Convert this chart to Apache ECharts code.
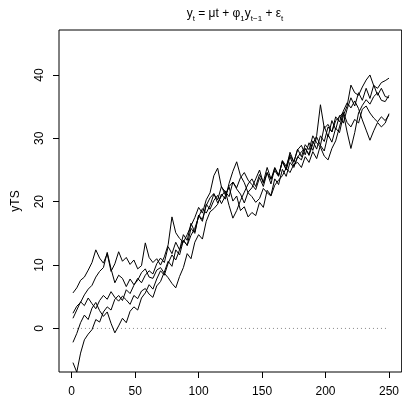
<!DOCTYPE html>
<html><head><meta charset="utf-8">
<script src="https://cdn.jsdelivr.net/npm/echarts@6/dist/echarts.min.js"></script>
<style>html,body{margin:0;padding:0;background:#fff}#c{width:402px;height:399px}</style>
</head><body><div id="c"></div>
<script>
const xTicks = [0, 50, 100, 150, 200, 250];
const yTicks = [0, 10, 20, 30, 40];
const timeStart = 1, timeStep = 3;

const seriesA = [
  5.6, 6.4, 7.6, 8.1, 9.2, 10.4, 12.4, 11.1, 10.3, 11.8, 9.0, 10.2,
  12.1, 10.6, 11.2, 10.1, 10.8, 9.4, 9.9, 13.5, 11.2, 10.4, 11.0, 10.0,
  11.3, 13.2, 17.6, 15.1, 14.2, 13.6, 14.8, 16.2, 17.5, 19.1, 18.2, 20.3,
  21.4, 24.1, 25.3, 22.3, 21.6, 20.8, 23.1, 22.0, 21.2, 19.8, 21.5, 22.2,
  23.6, 25.0, 22.9, 24.6, 23.5, 25.4, 24.2, 26.3, 25.0, 27.1, 25.6, 27.0,
  27.9, 28.4, 27.3, 29.1, 30.4, 35.3, 31.6, 32.2, 31.0, 32.8, 33.4, 34.1,
  32.5, 31.8, 33.0, 32.4, 34.6, 35.1, 34.0, 33.2, 32.6, 33.4, 32.8, 33.7
];
const seriesB = [
  2.4, 3.5, 4.1, 5.3, 6.2, 6.8, 8.1, 9.0, 9.6, 12.0, 9.4, 7.2,
  8.4, 7.9, 6.6, 7.8, 6.9, 7.6, 8.8, 9.4, 8.1, 7.9, 9.2, 9.6,
  8.7, 8.0, 7.1, 6.4, 8.2, 9.6, 11.8, 11.0, 13.6, 14.8, 14.1, 16.9,
  18.4, 18.9, 19.6, 21.2, 20.4, 22.9, 24.8, 26.3, 24.1, 23.0, 21.4, 20.8,
  19.9, 20.5, 22.1, 21.4, 20.9, 22.6, 23.4, 24.1, 25.3, 24.6, 25.9, 26.2,
  25.4, 27.1, 26.2, 27.9, 26.8, 28.9, 28.0, 30.6, 29.4, 31.6, 30.9, 33.6,
  35.1, 38.4, 37.2, 36.8, 38.1, 39.2, 40.0, 38.3, 37.9, 38.8, 39.1, 39.5
];
const seriesC = [
  1.6, 2.9, 4.2, 3.6, 4.8, 3.9, 3.1, 4.4, 5.2, 4.6, 5.8, 4.9,
  4.3, 5.1, 4.5, 3.8, 5.2, 4.7, 5.9, 6.3, 5.4, 4.9, 6.7, 7.4,
  8.9, 10.6, 9.8, 12.4, 11.6, 13.9, 13.1, 15.8, 15.0, 17.9, 17.2, 19.4,
  20.6, 21.3, 19.8, 20.9, 21.7, 19.4, 17.4, 18.6, 20.2, 21.5, 22.8, 23.6,
  22.4, 24.3, 23.1, 25.4, 23.6, 24.9, 24.0, 26.5, 25.6, 27.4, 26.2, 28.3,
  27.1, 29.0, 28.2, 30.4, 29.3, 28.6, 27.2, 26.6, 28.4, 29.6, 31.8, 34.0,
  31.0, 28.4, 30.9, 34.0, 35.2, 36.1, 35.4, 36.6, 37.2, 36.0, 35.8, 36.8
];
const seriesD = [
  -2.2, -0.8, 0.9, 2.1, 1.4, 3.2, 4.1, 2.8, 1.9, 2.6, 0.8, -0.7,
  0.4, 1.6, 0.9, 2.7, 3.4, 2.9, 4.8, 5.6, 6.9, 6.2, 7.8, 9.1,
  8.4, 10.3, 11.6, 10.8, 12.4, 13.9, 13.1, 14.7, 15.8, 17.6, 18.9, 18.2,
  19.4, 21.2, 20.3, 22.4, 21.1, 22.3, 20.1, 20.9, 18.6, 19.2, 17.6, 18.3,
  17.8, 19.9, 19.1, 21.8, 21.0, 23.6, 22.7, 25.1, 24.0, 26.2, 25.4, 27.1,
  26.6, 28.4, 27.5, 29.6, 28.3, 30.4, 29.5, 31.8, 31.0, 33.4, 32.6, 34.3,
  35.6, 34.8, 35.9, 34.7, 32.9, 31.3, 29.7, 31.2, 32.5, 31.8, 32.4, 33.9
];
const seriesE = [
  -5.4, -6.9, -3.9, -1.8, -0.9, -0.2, 1.4, 1.0, 2.6, 3.4, 2.9, 4.6,
  5.2, 4.4, 6.1, 5.5, 6.8, 7.9, 7.2, 8.4, 9.1, 8.6, 10.2, 11.1,
  10.4, 12.9, 11.8, 13.6, 12.4, 14.8, 13.9, 16.6, 15.2, 17.8, 16.9, 19.6,
  18.8, 20.2, 21.0, 19.7, 20.9, 22.4, 23.1, 22.2, 23.8, 24.6, 23.4, 22.7,
  21.9, 23.8, 22.4, 24.6, 22.8, 25.3, 24.1, 26.4, 25.2, 27.8, 26.3, 28.2,
  28.9, 27.4, 29.3, 28.1, 30.2, 28.9, 31.9, 30.2, 32.8, 31.4, 33.6, 32.4,
  34.6, 36.4, 35.1, 37.2, 36.0, 37.9, 36.3, 38.4, 36.8, 37.9, 36.6, 36.4
];
const zeroX = [1, 250];
const zeroY = [0, 0];

function toPairs(vals) { return vals.map((v, i) => [timeStart + i * timeStep, v]); }
const font = 'Liberation Sans, Arial, Helvetica, sans-serif';

const lineSeries = [seriesA, seriesB, seriesC, seriesD, seriesE].map(vals => ({
  type: 'line', data: toPairs(vals), showSymbol: false, symbol: 'none',
  lineStyle: { color: '#000', width: 1 }, z: 3, silent: true
}));
lineSeries.unshift({
  type: 'line', data: zeroX.map((x, i) => [x, zeroY[i]]), symbol: 'none',
  lineStyle: { color: '#888', width: 1, type: [1, 3] }, z: 2, silent: true
});

const chart = echarts.init(document.getElementById('c'), null, { renderer: 'canvas' });
chart.setOption({
  animation: false,
  backgroundColor: '#fff',
  title: {
    text: '{a|y}{s|t}{a| = μt + φ}{s|1}{a|y}{s|t−1}{a| + ε}{s|t}',
    left: 230, top: 4, textAlign: 'center',
    textStyle: {
      fontFamily: font, fontWeight: 'normal', color: '#000',
      rich: {
        a: { fontFamily: font, fontSize: 12, color: '#000', lineHeight: 14, verticalAlign: 'bottom', padding: [0, 0, 3, 0] },
        s: { fontFamily: font, fontSize: 8, color: '#000', lineHeight: 9, verticalAlign: 'bottom' }
      }
    }
  },
  grid: { left: 59, right: -1, top: 30, bottom: 27, show: true, borderColor: '#000', borderWidth: 1, containLabel: false },
  xAxis: {
    type: 'value', min: -10, max: 260,
    axisLine: { show: false, onZero: false }, splitLine: { show: false },
    axisTick: { show: true, customValues: xTicks, length: 6, lineStyle: { color: '#000' } },
    axisLabel: { customValues: xTicks, margin: 14, fontSize: 12, color: '#000', fontFamily: font }
  },
  yAxis: {
    type: 'value', min: -6.88, max: 47.1,
    axisLine: { show: false, onZero: false }, splitLine: { show: false },
    axisTick: { show: true, customValues: yTicks, length: 6, lineStyle: { color: '#000' } },
    axisLabel: { customValues: yTicks, margin: 13, rotate: 90, fontSize: 12, color: '#000', fontFamily: font },
    name: 'yTS', nameLocation: 'middle', nameGap: 37, nameRotate: 90,
    nameTextStyle: { fontSize: 12, color: '#000', fontFamily: font }
  },
  series: lineSeries
});
</script></body></html>
